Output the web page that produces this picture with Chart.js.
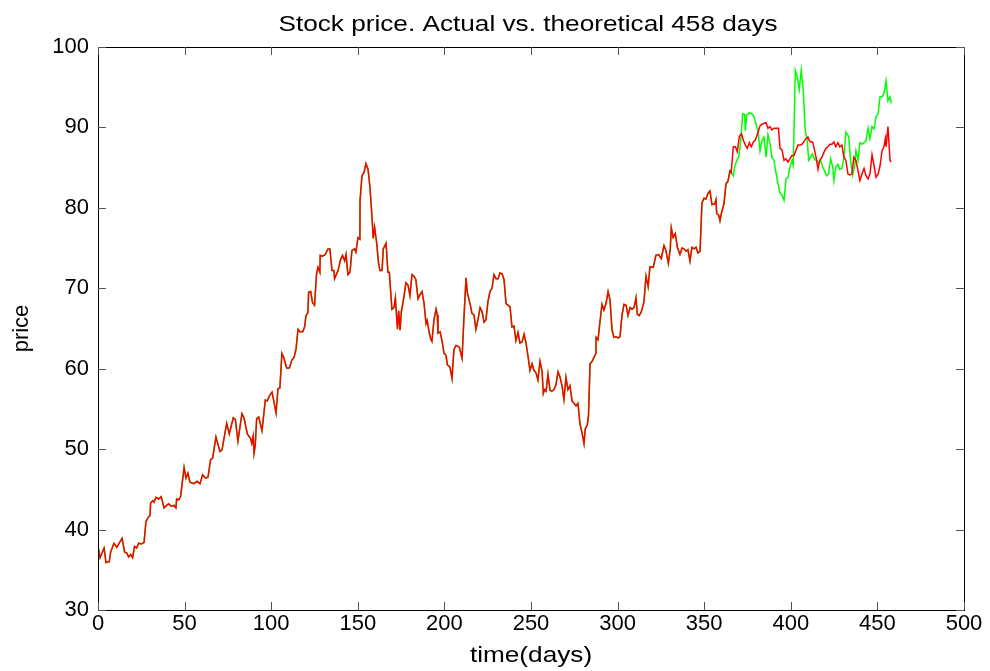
<!DOCTYPE html>
<html>
<head>
<meta charset="utf-8">
<title>Stock price. Actual vs. theoretical 458 days</title>
<script src="https://cdn.jsdelivr.net/npm/chart.js@4.4.1/dist/chart.umd.min.js"></script>
<style>
  html, body { margin: 0; padding: 0; background: #fff; }
  #wrap { width: 990px; height: 671px; position: relative; }
</style>
</head>
<body>
<div id="wrap"><canvas id="chart"></canvas></div>
<script>
// Both curves coincide up to about day 365
const commonDays = [
  0, 1.2, 3.5, 4.6, 6.5, 7.3, 9.2, 10.8, 13.9, 15.4, 16.5, 17.7, 18.9, 20, 21.1, 22.3, 23.5, 25, 26.6, 27.7,
  29.2, 30, 30.4, 31.6, 32.3, 33.5, 35, 36.5, 38.1, 39.6, 40.8, 42.3, 43.8, 45, 45.4, 46.6, 47.7, 49.7, 50.8, 51.9,
  53.1, 55.4, 57.3, 58.9, 60.4, 62, 63.5, 65, 66.2, 68.1, 70.4, 71.6, 74.3, 75.8, 78.1, 79.3, 80.8, 83.1, 84.3, 86.2,
  88.1, 88.8, 89.6, 90.1, 90.8, 91.6, 92.8, 94.7, 96.6, 97.8, 98.9, 100.5, 101.2, 102.8,
  103.9, 105, 106.2, 107.4, 108.9, 110.5, 112, 113.2, 114.3, 115.5, 116.6, 118.2, 119.3, 120.1, 121.2, 121.6, 122.8, 123.9, 125, 126.2,
  127, 128.1, 128.3, 129.7, 131.2, 132.8, 133.9, 135.1, 136.2, 136.6, 138.6, 140.1, 141.2, 142.4, 143.2, 144.3, 145.5, 146.6, 148.1, 148.9,
  150.1, 151.2, 151.3, 152.4, 153.6, 154.7, 155.9, 157, 158.2, 158.9, 159.7, 160.9, 162, 162.8, 164, 164.7, 166.3, 167.4, 168.2, 169.7, 170.9,
  171.7, 172.9, 173.6, 174.4, 175.1, 176.7, 177.8, 179, 180.1, 181.3, 182.4, 183.5, 184.8, 185.9, 187.1, 188.2, 189.4, 190.1, 190.9, 192.1,
  192.8, 194, 195.2, 195.9, 196.3, 197.5, 198.6, 199.8, 200.9, 201.7, 203.2, 204.4, 205.5, 206.7, 208.6, 210.2, 211.3, 212.5, 213.2, 214.8,
  215.9, 217.1, 218.2, 219.4, 220.6, 221.7, 222.9, 224, 225.2, 226.3, 227.5, 228.6, 229.8, 231, 232.1, 233.3, 234.4, 235.6, 236.7, 237.9,
  239, 240.2, 241.3, 242.5, 243.6, 244.8, 246, 247.1, 248.3, 249.4, 250.6, 251.7, 252.9, 254, 255.2, 256.4,
  257.1, 257.9, 258.7, 259.8, 261, 262.1, 263.3, 264.4, 265.6, 266.7, 267.9, 269, 270.2, 271.3, 272.5, 273.7, 274.8, 276, 277.1, 278.3,
  279.4, 280.6, 281.3, 282.5, 283.2, 284.1, 285.2, 286.4, 287.5, 287.6, 288.7, 289.8, 291, 292.1, 293.3, 294.5, 295.6, 296.8, 297.9, 299.1,
  300.2, 301.4, 302.5, 303.7, 304.9, 306, 307.2, 308.3, 309.5, 310.6, 311.4, 312.5, 313.7, 315.2, 316.4,
  317.6, 318.7, 320.6, 322.1, 323.7, 325.2, 326.8, 327.9, 329.3, 330.4, 331, 332.1, 333.3, 334.5, 336, 337.2, 338.3, 339.5, 340.6, 341.8,
  342.9, 344.1, 345.3, 346.4, 347.6, 348.7, 349.9, 351, 352.2, 353.3, 354.5, 356.1, 356.8, 357.2, 358.4, 359.1, 359.9, 361.4, 362.6, 363.7,
  364.9, 365.6
];
const commonPrice = [
  37.9, 36.5, 37.7, 35.9, 36.0, 37.2, 38.3, 37.8, 38.9, 37.2, 37.1, 36.6, 36.9, 36.5, 37.9, 37.7, 38.3, 38.2, 38.4, 41.0,
  41.6, 41.7, 43.3, 43.6, 43.4, 44.0, 43.8, 44.1, 42.7, 43.0, 43.2, 42.9, 43.0, 42.7, 43.8, 43.7, 44.1, 47.7, 46.4, 47.0,
  45.9, 45.7, 46.0, 45.7, 46.8, 46.4, 46.5, 48.7, 48.9, 51.5, 49.7, 49.9, 53.2, 51.9, 53.9, 53.7, 51.0, 54.4, 53.9, 51.9,
  51.3, 50.7, 51.6, 49.5, 50.5, 53.8, 54.0, 52.3, 56.1, 56.0, 56.6, 57.1, 56.3, 54.5,
  57.5, 57.6, 61.9, 61.3, 60.1, 60.1, 61.1, 61.4, 62.4, 64.9, 64.6, 64.6, 65.2, 66.6, 67.0, 69.5, 69.6, 68.2, 67.9, 71.8,
  72.6, 72.0, 74.1, 74.0, 74.2, 74.9, 74.9, 72.2, 72.2, 71.2, 72.2, 73.6, 74.1, 73.4, 74.2, 71.7, 72.0, 74.7, 74.9, 74.5,
  76.3, 76.1, 80.9, 84.0, 84.4, 85.5, 84.8, 82.6, 78.9, 76.2, 77.6, 75.6, 73.1, 72.2, 72.2, 74.9, 75.6, 72.0, 72.0, 67.4, 67.6,
  68.8, 64.9, 67.2, 64.8, 67.0, 69.0, 70.7, 70.4, 69.1, 71.7, 71.5, 71.1, 68.7, 69.2, 69.6, 68.2, 65.6, 66.0, 64.9, 63.7,
  63.4, 66.1, 67.4, 66.7, 64.4, 64.6, 63.5, 61.9, 61.7, 60.5, 60.2, 58.8, 62.4, 62.9, 62.7, 61.3, 66.4, 71.3, 69.5, 68.1,
  66.9, 66.7, 64.9, 66.1, 67.6, 67.1, 65.8, 66.1, 68.4, 69.6, 70.0, 71.7, 71.2, 71.2, 71.9, 71.8, 71.1, 68.1, 67.9, 67.7,
  65.2, 65.3, 63.5, 64.5, 63.2, 63.3, 64.3, 63.2, 61.5, 59.8, 60.6, 59.8, 59.5, 58.6, 60.9, 59.7,
  56.9, 57.4, 57.2, 59.3, 57.3, 57.2, 57.4, 58.0, 59.6, 59.0, 57.9, 56.2, 58.9, 57.4, 57.9, 56.0, 55.7, 55.4, 55.7, 53.1,
  52.1, 50.7, 52.5, 53.0, 54.2, 60.6, 60.9, 61.4, 61.9, 63.9, 63.6, 65.8, 68.0, 67.3, 68.1, 69.6, 68.6, 64.8, 63.9, 64.0,
  63.8, 64.0, 66.6, 68.0, 67.9, 66.6, 67.6, 67.4, 67.6, 68.8, 66.8, 66.6, 67.1, 68.3, 71.5,
  70.2, 72.7, 72.6, 74.1, 74.2, 73.7, 75.3, 74.7, 73.1, 74.9, 77.5, 76.3, 76.8, 75.1, 74.2, 75.0, 74.9, 74.6, 74.8, 73.4,
  75.1, 74.9, 75.1, 74.4, 74.6, 80.6, 81.2, 81.1, 81.8, 82.1, 80.4, 80.5, 81.0, 79.3, 79.1, 78.4, 79.3, 80.5, 83.0, 83.3,
  84.6, 84.4
];

// Actual price (green) after the split
const actualDays = [
  366.8, 367.6, 368.8, 369.9, 370.7, 371.4, 372.2, 373.4, 373.7, 374.5, 376.1, 377.6, 378.8, 379.9, 381.1, 382.2, 383.4, 384.5, 385.7, 386.8,
  388, 389.1, 390.3, 391.5, 392.6, 393.8, 394.9, 396.1, 397.2, 398.4, 399.5, 400.7, 401.4, 402.6, 403.7, 404.9, 406, 407.2, 408.3, 409.5,
  410.3, 411.4, 412.6, 413.7, 414.9, 416, 417.2, 418.4, 419.5, 420.7, 421.8, 423, 424.2, 424.9, 426, 427.2, 428.3, 429.5, 430.7, 431.8,
  433.4, 434.5, 435.7, 436.8, 437.6, 438.8, 439.9, 441.1, 442.3, 443.4, 444.6, 445.7, 446.9, 448, 449.2, 450.4, 451.5, 452.7, 453.8, 455,
  456.1, 457.3, 458
];
const actualPrice = [
  84.0, 85.1, 85.9, 86.3, 87.6, 89.2, 91.7, 91.6, 89.6, 91.5, 91.8, 91.7, 91.3, 90.4, 89.6, 87.1, 88.4, 88.8, 86.3, 89.1,
  88.0, 86.3, 85.9, 84.3, 83.0, 81.8, 81.6, 80.9, 83.6, 83.8, 85.1, 85.9, 85.3, 97.1, 96.3, 94.7, 97.1, 94.6, 89.6, 88.4,
  85.9, 86.3, 86.7, 86.0, 85.9, 85.5, 85.9, 85.1, 84.6, 84.0, 84.2, 86.1, 85.1, 83.4, 85.1, 85.4, 84.8, 84.9, 86.3, 89.4,
  88.9, 85.9, 84.1, 85.1, 87.1, 85.9, 88.1, 87.9, 88.1, 88.3, 89.9, 88.6, 90.1, 89.8, 91.3, 91.7, 93.8, 93.8, 94.2, 95.8,
  93.3, 93.8, 93.0
];

// Theoretical price (red) after the split
const theoDays = [
  366.8, 368, 369.1, 370.3, 371.5, 372.6, 373.8, 374.9, 376.1, 377.2, 378.4, 379.5, 381.1, 382.2, 383.4, 384.5, 385.7, 386.8, 388, 389.1,
  390.3, 391.8, 392.9, 393.8, 394.9, 396.1, 397.2, 398.4, 399.5, 400.7, 401.8, 402.9, 404.1, 405.2, 406.4, 407.5, 408.7, 409.9, 410.6, 411.4,
  412.6, 413.7, 414.9, 415.7, 416.7, 418, 419.1, 420.3, 421.4, 422.6, 423.7, 424.9, 426, 427.2, 428.3, 429.5, 430.7, 431.8, 433, 434.1,
  435.3, 436.4, 437.6, 438.8, 439.9, 441.1, 442.3, 443.4, 444.6, 445.7, 446.9, 448, 449.2, 450.4, 451.5, 452.7, 453.8, 454.6, 455, 456.1,
  457.3, 458
];
const theoPrice = [
  87.6, 87.6, 87.0, 88.9, 89.2, 88.4, 87.8, 87.4, 88.1, 87.6, 88.2, 88.4, 89.4, 90.2, 90.4, 90.5, 90.6, 89.9, 90.1, 89.7,
  89.9, 89.9, 89.9, 87.4, 87.2, 85.9, 86.1, 85.7, 86.1, 86.5, 86.5, 87.1, 87.8, 87.8, 87.9, 88.2, 88.6, 88.8, 88.4, 88.2,
  88.2, 87.2, 85.9, 84.8, 85.9, 86.3, 86.9, 87.4, 87.6, 87.9, 87.9, 88.2, 87.6, 88.1, 87.6, 87.8, 86.3, 85.9, 84.2, 84.1,
  84.2, 86.3, 85.9, 84.6, 83.4, 84.2, 84.9, 84.0, 83.6, 84.2, 86.6, 85.3, 83.8, 84.2, 85.2, 87.1, 87.6, 88.6, 87.6, 90.1,
  85.9, 85.7
];

const xTicks = [0, 50, 100, 150, 200, 250, 300, 350, 400, 450, 500];
const yTicks = [30, 40, 50, 60, 70, 80, 90, 100];

const FONT = '"Liberation Sans", Arial, Helvetica, sans-serif';

function toPoints(days, prices) {
  return days.map((d, i) => ({ x: d, y: prices[i] }));
}

// MATLAB style text is a bit wider than the font, so stretch it
function wideText(ctx, text, x, y, sx) {
  ctx.save();
  ctx.translate(x, y);
  ctx.scale(sx, 1);
  ctx.fillText(text, 0, 0);
  ctx.restore();
}

// Box around the plot with inward ticks on all four sides, plus titles
const matlabFrame = {
  id: 'matlabFrame',
  afterDatasetsDraw(chart) {
    const { ctx, chartArea: a, scales: { x, y } } = chart;
    ctx.save();
    ctx.strokeStyle = '#000';
    ctx.lineWidth = 1;
    ctx.strokeRect(a.left + 0.5, a.top + 0.5, a.right - a.left, a.bottom - a.top);

    ctx.strokeStyle = '#555';
    ctx.beginPath();
    xTicks.forEach(v => {
      const px = Math.round(x.getPixelForValue(v)) + 0.5;
      ctx.moveTo(px, a.bottom);
      ctx.lineTo(px, a.bottom - 8);
      ctx.moveTo(px, a.top);
      ctx.lineTo(px, a.top + 8);
    });
    yTicks.forEach(v => {
      const py = Math.round(y.getPixelForValue(v)) + 0.5;
      ctx.moveTo(a.left, py);
      ctx.lineTo(a.left + 8, py);
      ctx.moveTo(a.right, py);
      ctx.lineTo(a.right - 8, py);
    });
    ctx.stroke();
    ctx.restore();
  },
  afterDraw(chart) {
    const { ctx, chartArea: a } = chart;
    const cx = (a.left + a.right) / 2;
    ctx.save();
    ctx.fillStyle = '#000';
    ctx.textAlign = 'center';
    ctx.textBaseline = 'alphabetic';
    ctx.font = '22px ' + FONT;
    wideText(ctx, 'Stock price. Actual vs. theoretical 458 days', cx - 3, 31, 1.19);
    wideText(ctx, 'time(days)', cx, 662, 1.19);

    ctx.translate(28, (a.top + a.bottom) / 2);
    ctx.rotate(-Math.PI / 2);
    ctx.fillText('price', 0, 0);
    ctx.restore();
  }
};

const ctx = document.getElementById('chart').getContext('2d');
new Chart(ctx, {
  type: 'scatter',
  data: {
    datasets: [
      {
        label: 'theoretical',
        data: toPoints(commonDays.concat(theoDays), commonPrice.concat(theoPrice)),
        showLine: true,
        borderColor: '#ff0000',
        borderWidth: 1.5,
        pointRadius: 0,
        tension: 0
      },
      {
        label: 'actual',
        data: toPoints(commonDays.concat(actualDays), commonPrice.concat(actualPrice)),
        showLine: true,
        borderColor: '#00ff00',
        borderWidth: 1.5,
        pointRadius: 0,
        tension: 0
      }
    ]
  },
  options: {
    responsive: true,
    maintainAspectRatio: false,
    animation: false,
    layout: { padding: { top: 47, right: 26, left: 0, bottom: 0 } },
    scales: {
      x: {
        type: 'linear',
        min: 0,
        max: 500,
        afterFit: s => { s.height = 61; },
        afterBuildTicks: s => { s.ticks = xTicks.map(v => ({ value: v })); },
        grid: { display: false, drawTicks: false },
        border: { display: false },
        ticks: { color: '#000', padding: 1, maxRotation: 0, autoSkip: false, font: { family: FONT, size: 22 } }
      },
      y: {
        min: 30,
        max: 100,
        afterFit: s => { s.width = 98; },
        afterBuildTicks: s => { s.ticks = yTicks.map(v => ({ value: v })); },
        grid: { display: false, drawTicks: false },
        border: { display: false },
        ticks: { color: '#000', padding: 9, font: { family: FONT, size: 22 } }
      }
    },
    plugins: {
      legend: { display: false },
      tooltip: { enabled: false }
    }
  },
  plugins: [matlabFrame]
});
</script>
</body>
</html>
